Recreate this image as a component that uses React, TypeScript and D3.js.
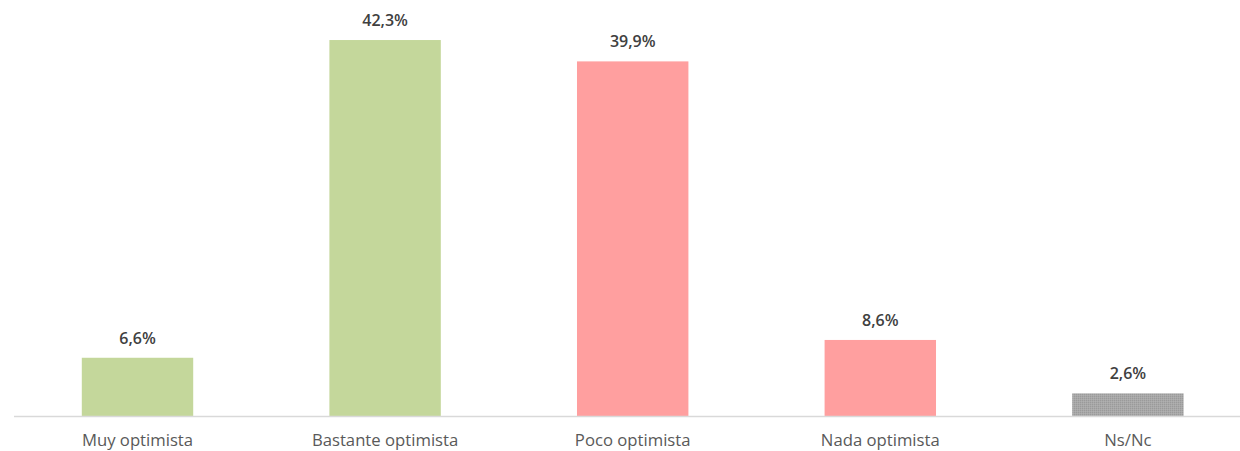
import React from "react";
import * as d3 from "d3";

const categories = ["Muy optimista", "Bastante optimista", "Poco optimista", "Nada optimista", "Ns/Nc"];
const values = [6.6, 42.3, 39.9, 8.6, 2.6];
const colors = ["#c4d79b", "#c4d79b", "#ff9f9f", "#ff9f9f", "url(#grayPat)"];
const valueLabels = ["6,6%", "42,3%", "39,9%", "8,6%", "2,6%"];

const W = 1240;
const H = 451;

export default function App() {
  const x = d3.scaleBand<string>().domain(categories).range([13.7, 1251.7]).paddingInner(0.55).paddingOuter(0.275);
  const y = d3.scaleLinear().domain([0, 45]).range([416.5, 16]);
  return (
    <svg width={W} height={H} style={{ position: "absolute", left: 0, top: 0, background: "#fff" }}>
      <defs>
        <pattern id="grayPat" width="2" height="2" patternUnits="userSpaceOnUse">
          <rect width="2" height="2" fill="#a8a8a8" />
          <rect width="1" height="1" fill="#9a9a9a" />
          <rect x="1" y="1" width="1" height="1" fill="#b0b0b0" />
        </pattern>
      </defs>
      {categories.map((c, i) => (
        <g key={c}>
          <rect x={x(c)} y={y(values[i])} width={x.bandwidth()} height={y(0) - y(values[i])} fill={colors[i]} />
          <text
            x={(x(c) as number) + x.bandwidth() / 2}
            y={y(values[i]) - 14}
            textAnchor="middle"
            fontFamily="'Open Sans', Lato, sans-serif"
            fontWeight={600}
            fontSize={16}
            fill="#404040"
          >
            {valueLabels[i]}
          </text>
          <text
            x={(x(c) as number) + x.bandwidth() / 2}
            y={446}
            textAnchor="middle"
            fontFamily="'Open Sans', Lato, sans-serif"
            fontSize={16.7}
            fill="#595959"
          >
            {c}
          </text>
        </g>
      ))}
      <line x1={14} x2={1240} y1={416.5} y2={416.5} stroke="#d9d9d9" strokeWidth={1.5} />
    </svg>
  );
}
